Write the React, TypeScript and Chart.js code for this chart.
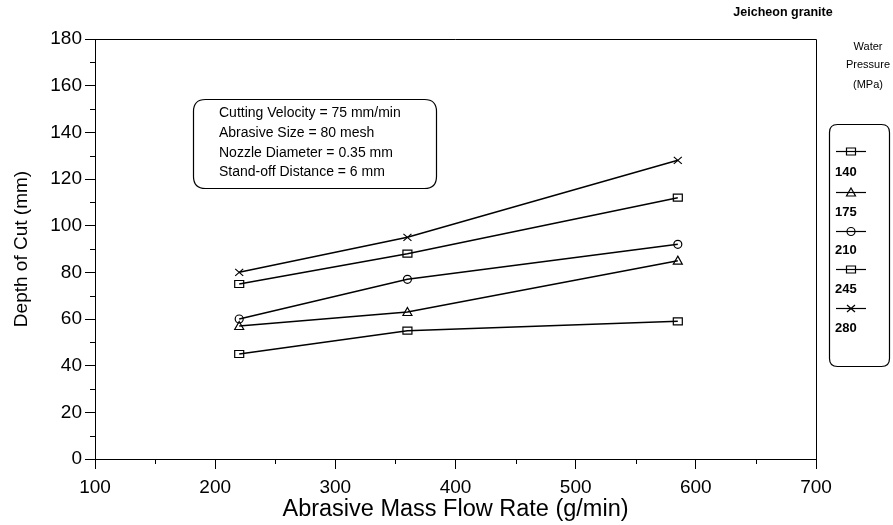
import React, { useEffect, useRef } from "react";
import { Chart, registerables } from "chart.js";

Chart.register(...registerables);

const flowRates = [220, 360, 585];
const p140 = [45, 55, 59];
const p175 = [57, 63, 85];
const p210 = [60, 77, 92];
const p245 = [75, 88, 112];
const p280 = [80, 95, 128];
const pressureLabels = ["140", "175", "210", "245", "280"];
const pointStyles = ["rect", "triangle", "circle", "rect", "crossRot"];
const conditionLines = [
  "Cutting Velocity = 75 mm/min",
  "Abrasive Size = 80 mesh",
  "Nozzle Diameter = 0.35 mm",
  "Stand-off Distance = 6 mm",
];
const chartTitle = "Jeicheon granite";
const legendTitle = ["Water", "Pressure", "(MPa)"];

const FONT = "Arial, 'Liberation Sans', sans-serif";

function drawMarker(ctx: CanvasRenderingContext2D, style: string, x: number, y: number) {
  ctx.beginPath();
  if (style === "rect") {
    ctx.rect(x - 4.5, y - 3.5, 9, 7);
  } else if (style === "triangle") {
    ctx.moveTo(x, y - 4.5);
    ctx.lineTo(x + 4.5, y + 3.5);
    ctx.lineTo(x - 4.5, y + 3.5);
    ctx.closePath();
  } else if (style === "circle") {
    ctx.arc(x, y, 4, 0, Math.PI * 2);
  } else if (style === "crossRot") {
    ctx.moveTo(x - 4, y - 3.5);
    ctx.lineTo(x + 4, y + 3.5);
    ctx.moveTo(x + 4, y - 3.5);
    ctx.lineTo(x - 4, y + 3.5);
  }
  ctx.stroke();
}

function roundRect(ctx: CanvasRenderingContext2D, x: number, y: number, w: number, h: number, r: number) {
  ctx.beginPath();
  ctx.moveTo(x + r, y);
  ctx.lineTo(x + w - r, y);
  ctx.quadraticCurveTo(x + w, y, x + w, y + r);
  ctx.lineTo(x + w, y + h - r);
  ctx.quadraticCurveTo(x + w, y + h, x + w - r, y + h);
  ctx.lineTo(x + r, y + h);
  ctx.quadraticCurveTo(x, y + h, x, y + h - r);
  ctx.lineTo(x, y + r);
  ctx.quadraticCurveTo(x, y, x + r, y);
  ctx.closePath();
}

const markerPlugin = {
  id: "markers",
  afterDatasetsDraw(chart: any) {
    const ctx: CanvasRenderingContext2D = chart.ctx;
    ctx.save();
    ctx.strokeStyle = "#000";
    ctx.lineWidth = 1.2;
    chart.data.datasets.forEach((ds: any, i: number) => {
      const meta = chart.getDatasetMeta(i);
      meta.data.forEach((pt: any) => drawMarker(ctx, ds.markerStyle, pt.x, pt.y));
    });
    ctx.restore();
  },
};

const decorPlugin = {
  id: "decor",
  afterDraw(chart: any) {
    const ctx: CanvasRenderingContext2D = chart.ctx;
    const { left, right, top, bottom } = chart.chartArea;
    const xs = chart.scales.x;
    const ys = chart.scales.y;
    ctx.save();
    ctx.strokeStyle = "#000";
    ctx.lineWidth = 1;
    ctx.beginPath();
    ctx.moveTo(left, top + 0.5);
    ctx.lineTo(right + 0.5, top + 0.5);
    ctx.lineTo(right + 0.5, bottom);
    ctx.stroke();
    ctx.beginPath();
    for (let v = 10; v < 180; v += 20) {
      const py = Math.round(ys.getPixelForValue(v)) + 0.5;
      ctx.moveTo(left - 5, py);
      ctx.lineTo(left, py);
    }
    for (let v = 150; v < 700; v += 100) {
      const px = Math.round(xs.getPixelForValue(v)) + 0.5;
      ctx.moveTo(px, bottom);
      ctx.lineTo(px, bottom + 5);
    }
    ctx.stroke();

    ctx.fillStyle = "#000";
    ctx.font = `bold 12.5px ${FONT}`;
    ctx.textAlign = "center";
    ctx.textBaseline = "middle";
    ctx.fillText(chartTitle, 783, 13);

    ctx.lineWidth = 1.2;
    roundRect(ctx, 193.5, 99.5, 243, 89, 12);
    ctx.stroke();
    ctx.font = `14px ${FONT}`;
    ctx.textAlign = "left";
    const lineYs = [113, 133, 153, 172];
    conditionLines.forEach((t, i) => ctx.fillText(t, 219, lineYs[i]));

    ctx.font = `11px ${FONT}`;
    ctx.textAlign = "center";
    const ltY = [47, 65, 85];
    legendTitle.forEach((t, i) => ctx.fillText(t, 868, ltY[i]));

    ctx.lineWidth = 1.2;
    roundRect(ctx, 829.5, 124.5, 60, 242, 8);
    ctx.stroke();
    const markY = [151, 192, 231, 269, 308];
    const labY = [172, 212, 250, 289, 328];
    chart.data.datasets.forEach((ds: any, i: number) => {
      ctx.strokeStyle = "#000";
      ctx.lineWidth = 1.2;
      ctx.beginPath();
      ctx.moveTo(836, markY[i] + 0.5);
      ctx.lineTo(866, markY[i] + 0.5);
      ctx.stroke();
      drawMarker(ctx, ds.markerStyle, 851, markY[i] + 0.5);
      ctx.fillStyle = "#000";
      ctx.font = `bold 13px ${FONT}`;
      ctx.textAlign = "left";
      ctx.fillText(ds.label, 835, labY[i]);
    });
    ctx.restore();
  },
};

export default function App() {
  const ref = useRef<HTMLCanvasElement | null>(null);
  useEffect(() => {
    if (!ref.current) return;
    const series = [p140, p175, p210, p245, p280];
    const chart = new Chart(ref.current, {
      type: "scatter",
      data: {
        datasets: series.map((vals, i) => ({
          label: pressureLabels[i],
          markerStyle: pointStyles[i],
          data: flowRates.map((x, j) => ({ x, y: vals[j] })),
          showLine: true,
          borderColor: "#000",
          borderWidth: 1.5,
          backgroundColor: "#000",
          pointRadius: 0,
        })) as any,
      },
      options: {
        animation: false,
        responsive: false,
        layout: { padding: { left: 0, right: 77, top: 39, bottom: 0 } },
        plugins: { legend: { display: false }, tooltip: { enabled: false }, title: { display: false } },
        scales: {
          x: {
            type: "linear",
            min: 100,
            max: 700,
            ticks: { stepSize: 100, color: "#000", font: { family: FONT, size: 19 }, padding: 7, maxRotation: 0 },
            grid: { drawOnChartArea: false, tickLength: 10, color: "#000", tickColor: "#000" },
            border: { display: true, color: "#000", width: 1 },
            title: { display: true, text: "Abrasive Mass Flow Rate (g/min)", color: "#000", font: { family: FONT, size: 23.5 }, padding: { top: 0, bottom: 1 } },
            afterFit: (s: any) => { s.height = 66; },
          },
          y: {
            type: "linear",
            min: 0,
            max: 180,
            ticks: { stepSize: 20, color: "#000", font: { family: FONT, size: 19 }, padding: 3 },
            grid: { drawOnChartArea: false, tickLength: 10, color: "#000", tickColor: "#000" },
            border: { display: true, color: "#000", width: 1 },
            title: { display: true, text: "Depth of Cut (mm)", color: "#000", font: { family: FONT, size: 19 }, padding: { top: 10, bottom: 0 } },
            afterFit: (s: any) => { s.width = 95; },
          },
        },
      },
      plugins: [markerPlugin, decorPlugin],
    });
    return () => chart.destroy();
  }, []);
  return (
    <div style={{ position: "fixed", left: 0, top: 0, width: 893, height: 525, background: "#fff" }}>
      <canvas ref={ref} width={893} height={525} style={{ width: 893, height: 525, display: "block" }} />
    </div>
  );
}
